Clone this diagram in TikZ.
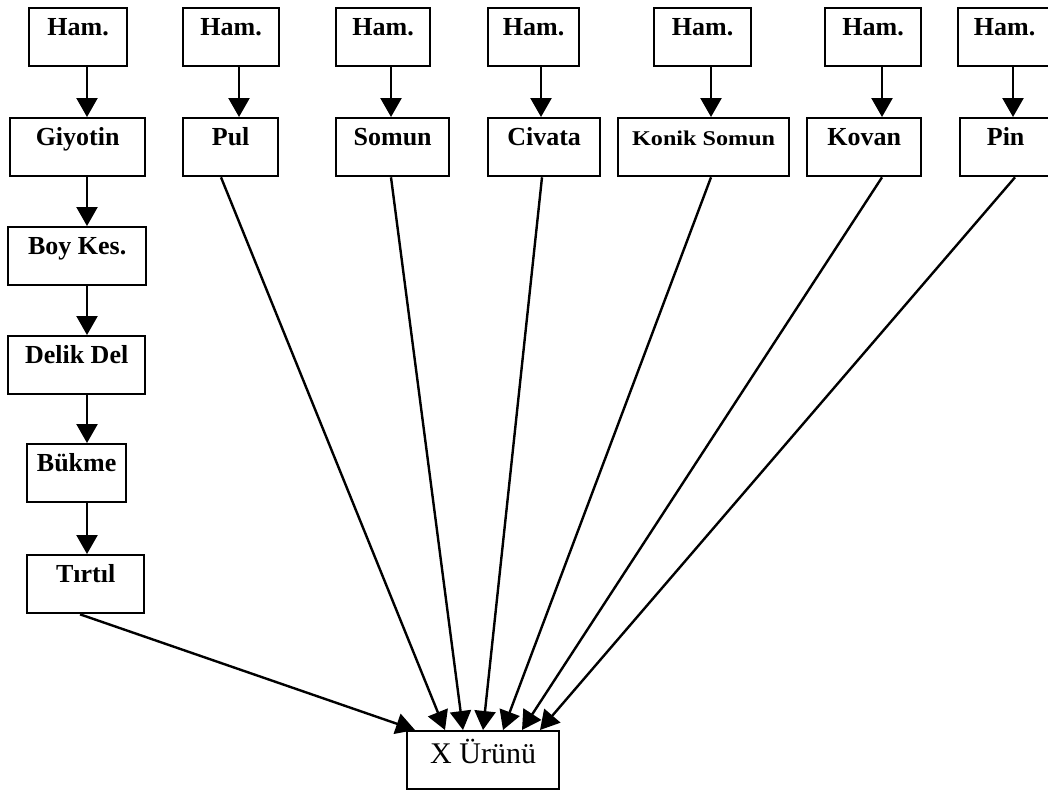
\documentclass[tikz,border=0pt]{standalone}
\usepackage{fontspec}
\setmainfont{Liberation Serif}
\usepackage{graphicx}
\usetikzlibrary{arrows.meta}
\tikzset{
  box/.style={draw, line width=2.3pt, inner sep=0pt, anchor=north west,
    text height=27pt, text depth=31pt, font=\fontsize{26}{26}\selectfont\bfseries},
  arr/.style={line width=2.4pt, -{Triangle[width=21pt,length=19pt]}},
}
\begin{document}
\begin{tikzpicture}[x=1pt,y=-1pt]
\useasboundingbox (0,0) rectangle (1048,790);
% top row
\node[box, minimum width=98pt] (ham1) at (28,7) {Ham.};
\node[box, minimum width=96pt] (ham2) at (182,7) {Ham.};
\node[box, minimum width=94pt] (ham3) at (335,7) {Ham.};
\node[box, minimum width=91pt] (ham4) at (487,7) {Ham.};
\node[box, minimum width=97pt] (ham5) at (653,7) {Ham.};
\node[box, minimum width=96pt] (ham6) at (824,7) {Ham.};
\node[box, minimum width=93pt] (ham7) at (957,7) {Ham.};
% second row
\node[box, minimum width=135pt] (giy) at (9,117) {Giyotin};
\node[box, minimum width=95pt] (pul) at (182,117) {Pul};
\node[box, minimum width=113pt] (som) at (335,117) {Somun};
\node[box, minimum width=112pt] (civ) at (487,117) {Civata};
\node[box, minimum width=171pt] (kon) at (617,117) {\scalebox{1.15}[1]{\fontsize{21}{21}\selectfont\bfseries Konik Somun}};
\node[box, minimum width=114pt] (kov) at (806,117) {Kovan};
\node[box, minimum width=91pt] (pin) at (959,117) {Pin};
% left column
\node[box, minimum width=138pt] (boy) at (7,226) {Boy Kes.};
\node[box, minimum width=137pt] (del) at (7,335) {Delik Del};
\node[box, minimum width=99pt] (buk) at (26,443) {Bükme};
\node[box, minimum width=117pt] (tir) at (26,554) {Tırtıl};
% product
\node[box, minimum width=152pt, text height=32pt, text depth=26pt,
  font=\fontsize{30}{30}\selectfont] (xu) at (406,730) {X Ürünü};
% column coordinates
\coordinate (c1) at (87,0);
\coordinate (c2) at (239,0);
\coordinate (c3) at (391,0);
\coordinate (c4) at (541,0);
\coordinate (c5) at (711,0);
\coordinate (c6) at (882,0);
\coordinate (c7) at (1013,0);
\coordinate (sPul) at (221,0);
\coordinate (sSom) at (391,0);
\coordinate (sCiv) at (542,0);
\coordinate (sKon) at (711,0);
\coordinate (sKov) at (882,0);
\coordinate (sPin) at (1015,0);
\coordinate (sTir) at (80,0);
\coordinate (tTir) at (415,0);
\coordinate (tPul) at (445,0);
\coordinate (tSom) at (463,0);
\coordinate (tCiv) at (483,0);
\coordinate (tKon) at (503,0);
\coordinate (tKov) at (522,0);
\coordinate (tPin) at (540,0);
% vertical arrows
\draw[arr] (ham1.south -| c1) -- (giy.north -| c1);
\draw[arr] (ham2.south -| c2) -- (pul.north -| c2);
\draw[arr] (ham3.south -| c3) -- (som.north -| c3);
\draw[arr] (ham4.south -| c4) -- (civ.north -| c4);
\draw[arr] (ham5.south -| c5) -- (kon.north -| c5);
\draw[arr] (ham6.south -| c6) -- (kov.north -| c6);
\draw[arr] (ham7.south -| c7) -- (pin.north -| c7);
\draw[arr] (giy.south -| c1) -- (boy.north -| c1);
\draw[arr] (boy.south -| c1) -- (del.north -| c1);
\draw[arr] (del.south -| c1) -- (buk.north -| c1);
\draw[arr] (buk.south -| c1) -- (tir.north -| c1);
% converging arrows
\draw[arr] (tir.south -| sTir) -- (xu.north -| tTir);
\draw[arr] (pul.south -| sPul) -- (xu.north -| tPul);
\draw[arr] (som.south -| sSom) -- (xu.north -| tSom);
\draw[arr] (civ.south -| sCiv) -- (xu.north -| tCiv);
\draw[arr] (kon.south -| sKon) -- (xu.north -| tKon);
\draw[arr] (kov.south -| sKov) -- (xu.north -| tKov);
\draw[arr] (pin.south -| sPin) -- (xu.north -| tPin);
\end{tikzpicture}
\end{document}
